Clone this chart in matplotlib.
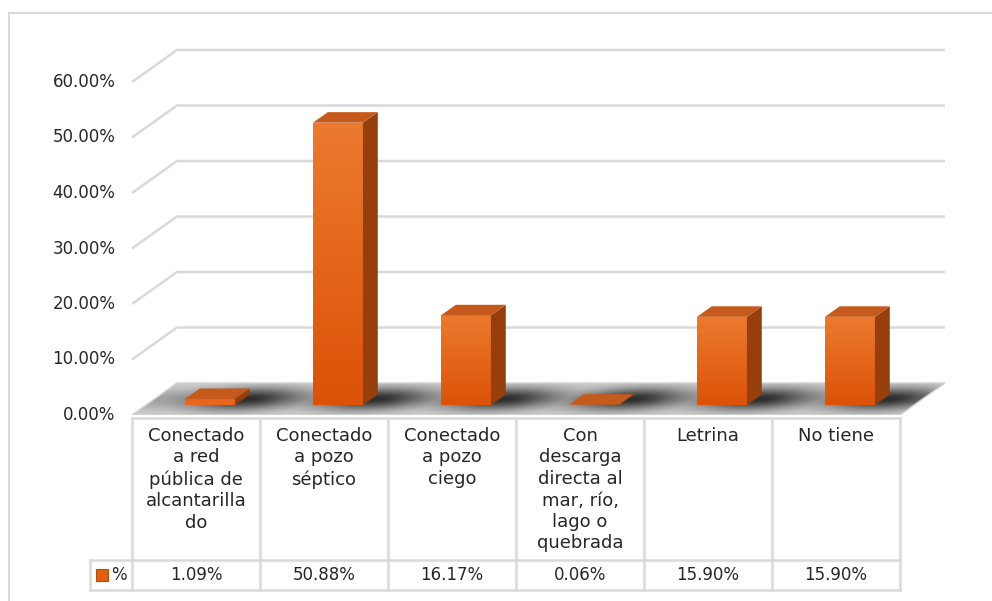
import numpy as np
import matplotlib
matplotlib.use("Agg")
import matplotlib.pyplot as plt
from matplotlib.patches import Polygon, Rectangle
from matplotlib.colors import LinearSegmentedColormap

# data
categories = ["Conectado\na red\npública de\nalcantarilla\ndo",
              "Conectado\na pozo\nséptico",
              "Conectado\na pozo\nciego",
              "Con\ndescarga\ndirecta al\nmar, río,\nlago o\nquebrada",
              "Letrina",
              "No tiene"]
values = [1.09, 50.88, 16.17, 0.06, 15.90, 15.90]
series_name = "%"
yticks = [0, 10, 20, 30, 40, 50, 60]

W, H = 992, 601
fig = plt.figure(figsize=(W / 100, H / 100), dpi=100)
plt.rcParams['font.family'] = ['DejaVu Sans']
FS = 12
grid_c = "#d9d9d9"
txt_c = "#262626"

px_per_cat = 128
px_per_pct = 333 / 60
DX = 45 / px_per_cat   # depth offset (category units)
DY = 32 / px_per_pct   # depth offset (percent units)

# plot area: category -0.5 at px 132; 0% front at px 415
ax = fig.add_axes([132 / W, (H - 415) / H, (768 + 45) / W, (333 + 34) / H])
ax.set_xlim(-0.5, 5.5 + DX)
ax.set_ylim(0, 60 + 34 / px_per_pct)
ax.axis("off")

# back wall gridlines
for v in yticks[1:]:
    ax.plot([-0.5, -0.5 + DX, 5.5 + DX], [v, v + DY, v + DY], color=grid_c,
            lw=1.8, clip_on=False, zorder=1, solid_capstyle="butt")
for v in yticks:
    ax.text(-0.5 - 0.13, v, f"{v:.2f}%", ha="right", va="center",
            fontsize=FS, color=txt_c)

# floor
floor = Polygon([(-0.5, 0), (5.5, 0), (5.5 + DX, DY), (-0.5 + DX, DY)],
                closed=True, facecolor="none", edgecolor="#d0d0d0", lw=1,
                zorder=3)
ax.add_patch(floor)
gx = np.linspace(-0.5, 5.5 + DX, 700)
gy = np.linspace(0, DY, 60)
GX, GY = np.meshgrid(gx, gy)
Z = GY / DY
X0 = GX - Z * DX
dark = np.zeros_like(GX)
for i in range(len(values)):
    dark = np.maximum(dark, np.exp(-((X0 - i - 0.22) / 0.36) ** 2))
dark = (0.3 + 0.7 * dark) * np.exp(-((Z - 0.5) / 0.36) ** 2)
shade = 0.84 - 0.66 * dark
im = ax.imshow(shade, extent=(gx[0], gx[-1], 0, DY), origin="lower",
               cmap="gray", vmin=0, vmax=1, aspect="auto", zorder=2,
               interpolation="bilinear")
im.set_clip_path(floor)
ax.set_xlim(-0.5, 5.5 + DX)
ax.set_ylim(0, 60 + 34 / px_per_pct)

# bars
z0, dz = 0.31, 0.33
hw = 25 / px_per_cat
front_grad = np.linspace(0, 1, 50).reshape(-1, 1)
fcmap = LinearSegmentedColormap.from_list("f", ["#dc5208", "#ec7a2e"])
for i, v in enumerate(values):
    xc = i + z0 * DX
    xl, xr = xc - hw, xc + hw
    yb = z0 * DY
    yt = yb + v
    ddx, ddy = dz * DX, dz * DY
    front = Rectangle((xl, yb), xr - xl, v, facecolor="#e8661c",
                      edgecolor="none", zorder=4)
    ax.add_patch(front)
    if v > 2:
        g = ax.imshow(front_grad, extent=(xl, xr, yb, yt), origin="lower",
                      cmap=fcmap, aspect="auto", zorder=4)
        g.set_clip_path(front)
    side = Polygon([(xr, yb), (xr + ddx, yb + ddy), (xr + ddx, yt + ddy), (xr, yt)],
                   closed=True, facecolor="#963f0c", edgecolor="none", zorder=4)
    ax.add_patch(side)
    top = Polygon([(xl, yt), (xr, yt), (xr + ddx, yt + ddy), (xl + ddx, yt + ddy)],
                  closed=True, facecolor="#c65a1c", edgecolor="none", zorder=5)
    ax.add_patch(top)
ax.set_xlim(-0.5, 5.5 + DX)
ax.set_ylim(0, 60 + 34 / px_per_pct)

# data table: px 418 (top) to 590 (bottom), value row from 560
tb = fig.add_axes([132 / W, (H - 590) / H, 768 / W, 172 / H])
tb.set_xlim(-0.5, 5.5)
tb.set_ylim(172, 0)
tb.axis("off")
n = len(values)
lkw = dict(color=grid_c, lw=1.8, clip_on=False, solid_capstyle="projecting")
for k in range(n + 1):
    tb.plot([k - 0.5, k - 0.5], [0, 172], **lkw)
tb.plot([-0.5, n - 0.5], [0, 0], **lkw)
leg_x = -0.5 - 42 / px_per_cat
tb.plot([leg_x, n - 0.5], [142, 142], **lkw)
tb.plot([leg_x, n - 0.5], [172, 172], **lkw)
tb.plot([leg_x, leg_x], [142, 172], **lkw)
for i, (c, v) in enumerate(zip(categories, values)):
    tb.text(i, 9, c, ha="center", va="top", fontsize=13, color=txt_c,
            linespacing=1.25)
    tb.text(i, 157, f"{v:.2f}%", ha="center", va="center", fontsize=FS,
            color=txt_c)
tb.add_patch(Rectangle((leg_x + 6 / px_per_cat, 151), 12 / px_per_cat, 12,
                       facecolor="#e0600f", edgecolor="#b84a0c", lw=0.8,
                       clip_on=False))
tb.text(leg_x + 21 / px_per_cat, 157, series_name, ha="left", va="center",
        fontsize=FS, color=txt_c)

# chart border
fig.add_artist(plt.Line2D([8.5 / W, 8.5 / W], [0, 1 - 12.5 / H], color=grid_c,
                          lw=1.5, transform=fig.transFigure))
fig.add_artist(plt.Line2D([8.5 / W, 1], [1 - 12.5 / H, 1 - 12.5 / H], color=grid_c,
                          lw=1.5, transform=fig.transFigure))

fig.savefig("out.png", dpi=100)
